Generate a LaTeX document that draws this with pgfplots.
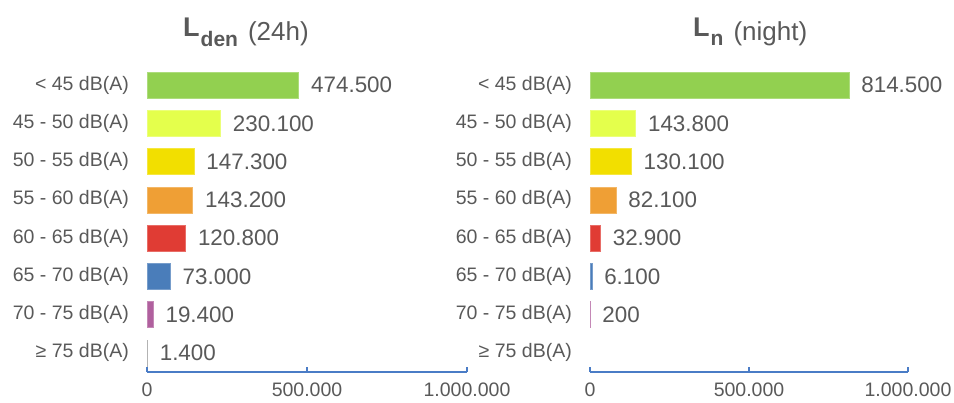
\documentclass[border=0pt]{standalone}
\usepackage{fontspec}
\setmainfont{Liberation Sans}
\usepackage{pgfplots}
\pgfplotsset{compat=1.18}
\definecolor{txt}{HTML}{595959}
\definecolor{axblue}{HTML}{4A7CC6}
\definecolor{c1}{HTML}{92D050}
\definecolor{c2}{HTML}{E4FF4C}
\definecolor{c3}{HTML}{F2DF00}
\definecolor{c4}{HTML}{EF9F35}
\definecolor{c5}{HTML}{E03C34}
\definecolor{c6}{HTML}{4A7DBA}
\definecolor{c7}{HTML}{B0609E}
\definecolor{c8}{HTML}{9A9A9A}
\pgfplotsset{
  noisebar/.style={
    scale only axis, height=306pt, anchor=south west,
    xbar, bar width=26pt,
    xmin=0, xmax=1000000, ymin=-0.5, ymax=7.5, y dir=reverse,
    axis x line*=bottom, axis y line*=left,
    y axis line style={draw=none},
    x axis line style={draw=axblue, line width=1.3pt, -},
    ytick={0,...,7},
    yticklabels={{< 45 dB(A)},{45 - 50 dB(A)},{50 - 55 dB(A)},{55 - 60 dB(A)},{60 - 65 dB(A)},{65 - 70 dB(A)},{70 - 75 dB(A)},{≥ 75 dB(A)}},
    ytick style={draw=none},
    xtick={0,500000,1000000},
    xticklabels={0,500.000,1.000.000},
    xtick align=inside, major tick length=5pt,
    xtick style={draw=axblue, line width=1.3pt},
    tick label style={font=\fontsize{19.5}{20}\selectfont, text=txt, inner sep=0pt},
    yticklabel style={xshift=-13pt},
    xticklabel style={yshift=-10.5pt},
    point meta=x,
    nodes near coords={\pgfmathprintnumber[fixed,precision=0,1000 sep={.},assume math mode=true]{\pgfplotspointmeta}},
    nodes near coords style={font=\fontsize{22.4}{23}\selectfont, text=txt, anchor=west, inner sep=0pt, xshift=12pt},
    clip=false,
  },
  bb/.style={fill=#1, draw=#1!75!white, line width=0.7pt, bar shift=0pt},
}
\begin{document}
\begin{tikzpicture}
\path[use as bounding box] (0,0) rectangle (954pt,403pt);
% Left: Lden
\begin{axis}[noisebar, width=320pt, at={(147pt,31pt)}]
\addplot[bb=c1] coordinates {(474500,0)};
\addplot[bb=c2] coordinates {(230100,1)};
\addplot[bb=c3] coordinates {(147300,2)};
\addplot[bb=c4] coordinates {(143200,3)};
\addplot[bb=c5] coordinates {(120800,4)};
\addplot[bb=c6] coordinates {(73000,5)};
\addplot[bb=c7] coordinates {(19400,6)};
\addplot[bb=c8] coordinates {(1400,7)};
\end{axis}
% Right: Ln
\begin{axis}[noisebar, width=318pt, at={(590pt,31pt)}]
\addplot[bb=c1] coordinates {(814500,0)};
\addplot[bb=c2] coordinates {(143800,1)};
\addplot[bb=c3] coordinates {(130100,2)};
\addplot[bb=c4] coordinates {(82100,3)};
\addplot[bb=c5] coordinates {(32900,4)};
\addplot[bb=c6] coordinates {(6100,5)};
\addplot[bb=c7] coordinates {(200,6)};
\end{axis}
% Titles
\node[anchor=base west, text=txt, inner sep=0pt] at (183pt,362pt)
  {\raisebox{4.5pt}{\fontsize{27}{27}\selectfont\bfseries L}\hspace{1pt}\raisebox{-6pt}{\fontsize{21}{21}\selectfont\bfseries den}\hspace{10pt}{\fontsize{26}{27}\selectfont (24h)}};
\node[anchor=base west, text=txt, inner sep=0pt] at (693pt,362pt)
  {\raisebox{4.5pt}{\fontsize{27}{27}\selectfont\bfseries L}\hspace{1pt}\raisebox{-5pt}{\fontsize{21}{21}\selectfont\bfseries n}\hspace{10pt}{\fontsize{26}{27}\selectfont (night)}};
\end{tikzpicture}
\end{document}
